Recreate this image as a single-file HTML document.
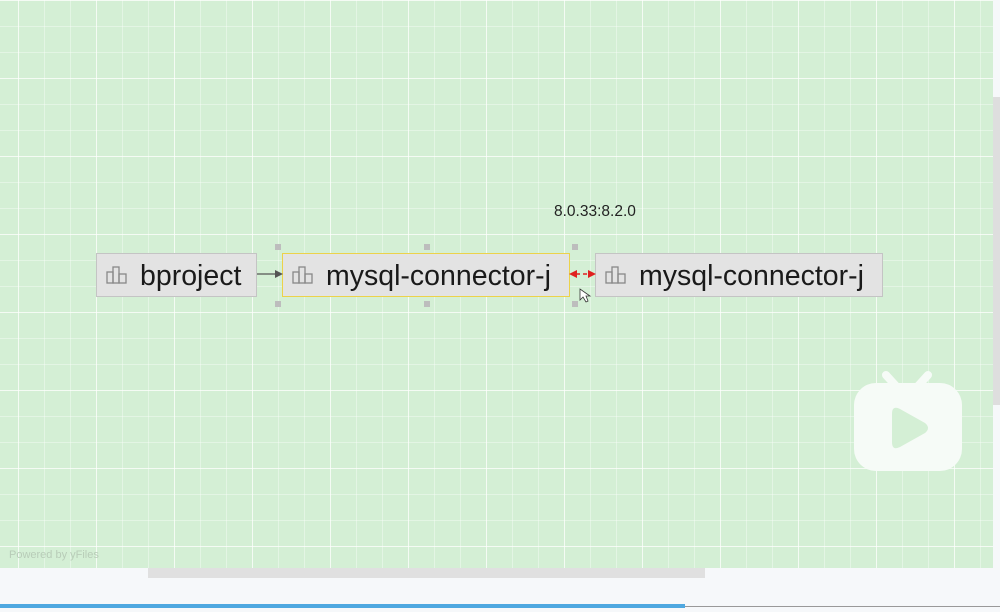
<!DOCTYPE html>
<html><head><style>
body{margin:0;width:1000px;height:612px;overflow:hidden;background:#f6f8fa;position:relative;font-family:"Liberation Sans",sans-serif}
#g{position:absolute;left:0;top:0;width:993px;height:568px;background-color:#d4efd5;
background-image:linear-gradient(90deg,rgba(255,255,255,.6) 1px,transparent 1px),linear-gradient(rgba(255,255,255,.6) 1px,transparent 1px),linear-gradient(90deg,rgba(255,255,255,.35) 1px,transparent 1px),linear-gradient(rgba(255,255,255,.35) 1px,transparent 1px);
background-size:78px 78px,78px 78px,26px 26px,26px 26px;background-position:18px 0,0 0,18px 0,0 0}
.n{position:absolute;top:253px;height:42px;background:#e3e3e3;border:1px solid #c4c4c4;font-size:28.5px;color:#1a1a1a;line-height:44px;box-sizing:content-box}
.n span{position:absolute;left:43px}
.ic{position:absolute;left:9px;top:12px}
.h{position:absolute;width:6px;height:6px;background:#bdbdbd}
</style></head><body>
<div id="g"></div>
<div class="n" style="left:96px;width:159px"><svg class="ic" width="22" height="18"><g fill="none" stroke="#888" stroke-width="1.3"><rect x="1" y="6" width="6" height="11"/><rect x="7" y="1" width="6" height="16"/><rect x="13" y="8" width="7" height="9"/></g></svg><span>bproject</span></div>
<div class="n" style="left:282px;width:286px;border-color:#ecd24a"><svg class="ic" width="22" height="18"><g fill="none" stroke="#888" stroke-width="1.3"><rect x="1" y="6" width="6" height="11"/><rect x="7" y="1" width="6" height="16"/><rect x="13" y="8" width="7" height="9"/></g></svg><span>mysql-connector-j</span></div>
<div class="n" style="left:595px;width:286px"><svg class="ic" width="22" height="18"><g fill="none" stroke="#888" stroke-width="1.3"><rect x="1" y="6" width="6" height="11"/><rect x="7" y="1" width="6" height="16"/><rect x="13" y="8" width="7" height="9"/></g></svg><span>mysql-connector-j</span></div>
<div class="h" style="left:275px;top:244px"></div><div class="h" style="left:424px;top:244px"></div><div class="h" style="left:572px;top:244px"></div>
<div class="h" style="left:275px;top:301px"></div><div class="h" style="left:424px;top:301px"></div><div class="h" style="left:572px;top:301px"></div>
<svg style="position:absolute;left:0;top:0" width="1000" height="612">
<line x1="257" y1="274" x2="276" y2="274" stroke="#555" stroke-width="1.2"/><path d="M283 274 L275 270 L275 278Z" fill="#555"/>
<line x1="576" y1="274" x2="589" y2="274" stroke="#e02020" stroke-width="1.5" stroke-dasharray="4,3"/>
<path d="M569 274 L577 270 L577 278Z" fill="#e02020"/><path d="M596 274 L588 270 L588 278Z" fill="#e02020"/>
<path d="M580 289 L580 300 L583 297 L586 302 L588 301 L586 296 L590 296Z" fill="#fff" stroke="#333" stroke-width=".8"/>
<text x="554" y="216" font-size="15.5" fill="#222" font-family="Liberation Sans">8.0.33:8.2.0</text>
<text x="9" y="558" font-size="11" fill="#b8ccb8" font-family="Liberation Sans">Powered by yFiles</text>
<g fill="#f6fbf7"><rect x="854" y="383" width="108" height="88" rx="22"/></g>
<g stroke="#f6fbf7" stroke-width="8" stroke-linecap="round"><line x1="886" y1="375" x2="896" y2="386"/><line x1="928" y1="375" x2="918" y2="386"/></g>
<path d="M892 414 Q892 405 900 409 L925 423 Q931 428 925 433 L900 447 Q892 451 892 442Z" fill="#d4efd5"/>
</svg>
<div style="position:absolute;left:993px;top:97px;width:7px;height:308px;background:#dedede"></div>
<div style="position:absolute;left:148px;top:568px;width:557px;height:10px;background:#e0e0e0"></div>
<div style="position:absolute;left:0;top:604px;width:685px;height:4px;background:#4fa8e0"></div>
<div style="position:absolute;left:685px;top:606px;width:315px;height:1px;background:#999"></div>
</body></html>
